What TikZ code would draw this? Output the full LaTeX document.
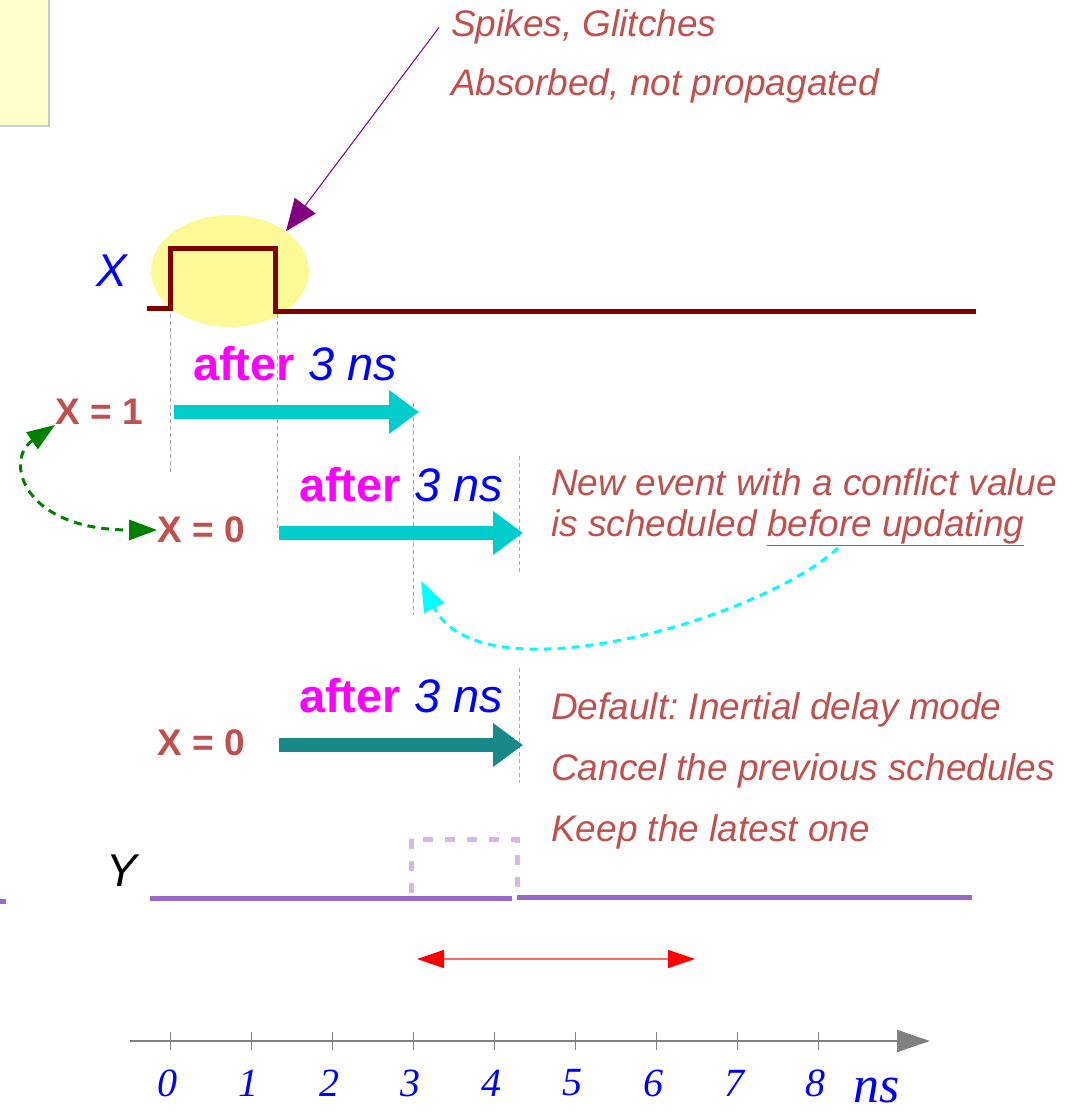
\documentclass[tikz,border=0pt]{standalone}
\usepackage{fontspec}
\setmainfont{Liberation Sans}
\newfontfamily\axisfont{Liberation Serif}
\usepackage{xcolor}
\usepackage{tikz}
\definecolor{notered}{RGB}{192,80,77}
\definecolor{sigx}{RGB}{128,0,0}
\definecolor{sigy}{RGB}{153,102,204}
\definecolor{evcyan}{RGB}{0,204,204}
\definecolor{evteal}{RGB}{24,136,136}
\definecolor{glitchyellow}{RGB}{252,250,150}
\definecolor{noteyellow}{RGB}{255,255,204}
\definecolor{guidegreen}{RGB}{90,225,90}
\definecolor{pointer}{RGB}{128,0,128}
\definecolor{kwpink}{RGB}{255,0,255}
\definecolor{hitcyan}{RGB}{0,255,255}
\definecolor{loopgreen}{RGB}{0,128,0}
\usetikzlibrary{shapes,arrows.meta,positioning}
\frenchspacing

\begin{document}
\begin{tikzpicture}[
    x=1pt, y=-1pt,
    note/.style={font=\fontsize{37}{40}\selectfont\itshape, text=notered, anchor=base west, inner sep=0pt},
    assign/.style={font=\fontsize{37}{40}\selectfont\bfseries, text=notered, inner sep=0pt},
    delay/.style={font=\fontsize{47}{50}\selectfont, anchor=base west, inner sep=0pt},
    event/.style={-{Triangle[length=30pt, width=42pt]}, line width=14pt, evcyan},
    guide/.style={dash pattern=on 4pt off 3pt, line width=1pt},
    signal/.style={line width=5pt},
    tlabel/.style={font=\fontsize{40}{40}\selectfont\axisfont\itshape, text=blue, inner sep=0pt}
]
\useasboundingbox (0,0) rectangle (1081,1115);

% note box in the corner
\draw[fill=noteyellow, draw=gray!40, line width=1.5pt] (-10,-10) rectangle (49,126);

% glitch on X
\node[ellipse, fill=glitchyellow, minimum width=158pt, minimum height=112pt, inner sep=0pt] (glitch) at (230,271) {};
\node[font=\fontsize{46}{50}\selectfont\itshape, text=blue, inner sep=0pt] (xlabel) at (112,271) {X};
\draw[signal, sigx] (147,308) -- (170,308) -- (170,248) -- (275,248) -- (275,311) -- (976,311);

\node[note] (spikes) at (451,37) {Spikes, Glitches};
\node[note] (absorbed) at (451,96) {Absorbed, not propagated};
\draw[-{Triangle[length=32pt, width=26pt]}, pointer, line width=1pt] ([xshift=-12pt]spikes.west) -- (glitch.north east);

% time guides
\draw[guide, gray!70] (170,314) -- (170,475);
\draw[guide, guidegreen] (277,314) -- (277,532);
\draw[guide, gray!70] (413,403) -- (413,615);
\draw[guide, guidegreen] (519,456) -- (519,573);
\draw[guide, guidegreen] (519,668) -- (519,783);

% scheduled events
\node[delay] (d1) at (193,380) {\textcolor{kwpink}{\bfseries after} \textcolor{blue}{\itshape 3 ns}};
\node[assign] (xone) at (99,412) {X = 1};
\draw[event] (174,412) -- (419,412);

\node[delay] (d2) at (299,501) {\textcolor{kwpink}{\bfseries after} \textcolor{blue}{\itshape 3 ns}};
\node[assign] (xzero) at (201,530) {X = 0};
\draw[event] (279,533) -- (523,533);

\node[delay] (d3) at (299,712) {\textcolor{kwpink}{\bfseries after} \textcolor{blue}{\itshape 3 ns}};
\node[assign] (xzerob) at (201,743) {X = 0};
\draw[event, evteal] (279,745) -- (523,745);

\draw[{Triangle[length=28pt, width=20pt]}-{Triangle[length=28pt, width=20pt]}, loopgreen, line width=3pt, dash pattern=on 8pt off 6pt]
    (xone.south west) .. controls (4,460) and (22,530) .. (xzero.west);

\node[note] (conflict) at (551,495) {New event with a conflict value};
\node[note] (sched) at (551,536) {is scheduled \underline{before updating}};
\coordinate (hit) at (421,581);
\draw[-{Triangle[length=30pt, width=22pt]}, hitcyan, line width=3pt, dash pattern=on 8pt off 6pt]
    (838,548) .. controls (760,620) and (480,700) .. (hit);

\node[note] (deflt) at (551,719) {Default: Inertial delay mode};
\node[note] (cancel) at (551,780) {Cancel the previous schedules};
\node[note] (keep) at (551,841) {Keep the latest one};

% output Y
\node[font=\fontsize{46}{50}\selectfont\itshape, inner sep=0pt] (ylabel) at (122,871) {Y};
\draw[signal, sigy!45, dash pattern=on 10pt off 12pt] (411,893) -- (411,839) -- (517,839) -- (517,893);
\draw[signal, sigy] (150,898) -- (512,898);
\draw[signal, sigy] (517,897) -- (972,897);
\draw[signal, sigy] (0,901) -- (6,901);

\draw[{Triangle[length=27pt, width=18pt, red]}-{Triangle[length=27pt, width=18pt, red]}, red!60, line width=1.5pt] (417,959) -- (695,959);

% time axis
\draw[-{Triangle[length=33pt, width=22pt]}, gray, line width=1.5pt] (130,1041) -- (930,1041);
\foreach \t in {0,...,8} {
    \draw[gray, line width=1pt] (170+81*\t,1032) -- (170+81*\t,1050);
    \node[tlabel] (lbl\t) at (167+81*\t,1083) {\t};
}
\node[tlabel, font=\fontsize{52}{52}\selectfont\axisfont\itshape] (unit) at (877,1090) {ns};

\end{tikzpicture}
\end{document}
